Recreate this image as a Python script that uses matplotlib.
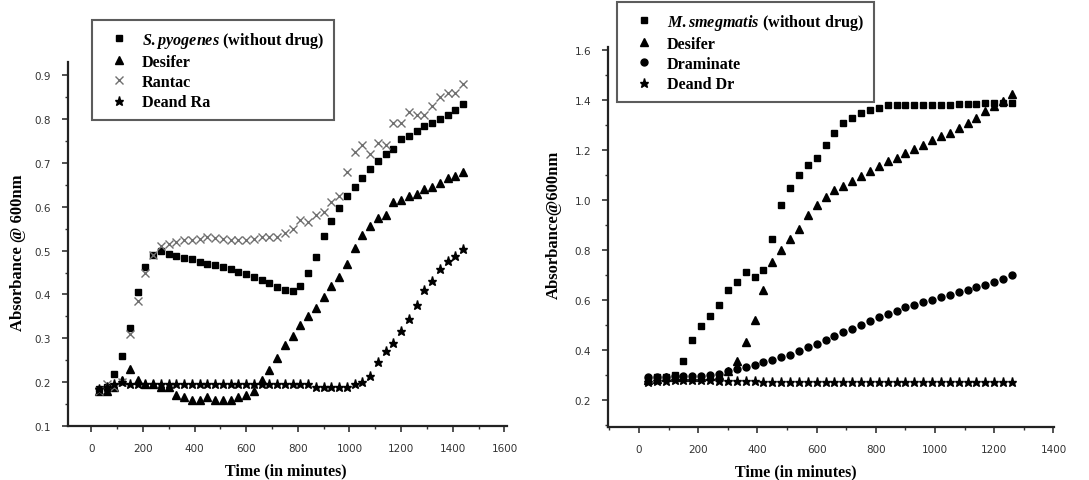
import matplotlib
matplotlib.use("Agg")
import matplotlib.pyplot as plt
from matplotlib.ticker import MultipleLocator

plt.rcParams['font.family'] = 'Liberation Serif'
plt.rcParams['mathtext.fontset'] = 'custom'
plt.rcParams['mathtext.it'] = 'Liberation Serif:italic:bold'
plt.rcParams['mathtext.rm'] = 'Liberation Serif:bold'

# ---- left panel: S. pyogenes ----
t_left = list(range(30, 1441, 30))
spyo = [0.184, 0.19, 0.218, 0.26, 0.324, 0.405, 0.463, 0.49, 0.50, 0.493,
        0.488, 0.484, 0.48, 0.475, 0.47, 0.466, 0.462, 0.458, 0.452, 0.446,
        0.44, 0.432, 0.425, 0.418, 0.41, 0.407, 0.42, 0.45, 0.485, 0.533,
        0.568, 0.598, 0.625, 0.645, 0.665, 0.686, 0.705, 0.72, 0.731, 0.754,
        0.762, 0.773, 0.784, 0.792, 0.80, 0.81, 0.82, 0.834]
desifer_l = [0.18, 0.18, 0.19, 0.205, 0.23, 0.205, 0.195, 0.195, 0.19, 0.19,
             0.17, 0.165, 0.16, 0.16, 0.165, 0.16, 0.16, 0.16, 0.165, 0.17,
             0.18, 0.205, 0.228, 0.255, 0.285, 0.305, 0.33, 0.35, 0.37, 0.395,
             0.42, 0.44, 0.47, 0.505, 0.535, 0.555, 0.575, 0.58, 0.61, 0.615,
             0.625, 0.63, 0.64, 0.645, 0.655, 0.665, 0.67, 0.68]
rantac = [0.18, 0.195, 0.19, 0.20, 0.31, 0.385, 0.45, 0.49, 0.51, 0.515,
          0.52, 0.525, 0.525, 0.527, 0.53, 0.528, 0.527, 0.525, 0.525, 0.525,
          0.527, 0.53, 0.53, 0.53, 0.54, 0.55, 0.57, 0.565, 0.58, 0.587,
          0.611, 0.625, 0.68, 0.725, 0.74, 0.72, 0.745, 0.74, 0.79, 0.79,
          0.815, 0.81, 0.81, 0.83, 0.85, 0.86, 0.86, 0.88]
dead_ra = [0.185, 0.19, 0.195, 0.20, 0.195, 0.195, 0.195, 0.195, 0.195, 0.195,
           0.195, 0.195, 0.195, 0.195, 0.195, 0.195, 0.195, 0.195, 0.195, 0.195,
           0.195, 0.195, 0.195, 0.195, 0.195, 0.195, 0.195, 0.195, 0.19, 0.19,
           0.19, 0.19, 0.19, 0.195, 0.20, 0.214, 0.245, 0.27, 0.29, 0.317,
           0.343, 0.377, 0.41, 0.43, 0.457, 0.476, 0.488, 0.503]

# ---- right panel: M. smegmatis ----
t_right = list(range(30, 1261, 30))
msmeg = [0.28, 0.29, 0.29, 0.30, 0.355, 0.44, 0.495, 0.535, 0.58, 0.64,
         0.67, 0.71, 0.69, 0.72, 0.845, 0.98, 1.05, 1.10, 1.14, 1.17,
         1.22, 1.27, 1.31, 1.33, 1.35, 1.36, 1.37, 1.38, 1.38, 1.38,
         1.38, 1.38, 1.38, 1.38, 1.38, 1.385, 1.385, 1.385, 1.39, 1.39,
         1.39, 1.39]
desifer_r = [0.28, 0.285, 0.29, 0.29, 0.29, 0.29, 0.29, 0.295, 0.30, 0.315,
             0.355, 0.43, 0.52, 0.64, 0.75, 0.80, 0.845, 0.885, 0.94, 0.98,
             1.01, 1.04, 1.055, 1.075, 1.095, 1.115, 1.135, 1.155, 1.17, 1.19,
             1.205, 1.22, 1.24, 1.255, 1.27, 1.29, 1.31, 1.33, 1.355, 1.375,
             1.395, 1.425]
draminate = [0.29, 0.29, 0.29, 0.295, 0.295, 0.295, 0.295, 0.30, 0.305, 0.315,
             0.325, 0.33, 0.34, 0.35, 0.36, 0.37, 0.38, 0.395, 0.41, 0.425,
             0.44, 0.455, 0.47, 0.485, 0.50, 0.515, 0.53, 0.545, 0.555, 0.57,
             0.58, 0.59, 0.60, 0.61, 0.62, 0.63, 0.64, 0.65, 0.66, 0.67,
             0.685, 0.70]
dead_dr = [0.27, 0.275, 0.275, 0.28, 0.28, 0.28, 0.28, 0.28, 0.275, 0.275,
           0.275, 0.275, 0.275, 0.27, 0.27, 0.27, 0.27, 0.27, 0.27, 0.27,
           0.27, 0.27, 0.27, 0.27, 0.27, 0.27, 0.27, 0.27, 0.27, 0.27,
           0.27, 0.27, 0.27, 0.27, 0.27, 0.27, 0.27, 0.27, 0.27, 0.27,
           0.27, 0.27]

fig = plt.figure(figsize=(10.89, 4.81), dpi=100)
ax1 = fig.add_axes([0.0624, 0.1123, 0.4032, 0.7567])
ax2 = fig.add_axes([0.5583, 0.1102, 0.4096, 0.79])

ax1.plot(t_left, spyo, 's', color='black', ms=5, label=r'$\mathit{S.pyogenes}$ (without drug)')
ax1.plot(t_left, desifer_l, '^', color='black', ms=5.5, label='Desifer')
ax1.plot(t_left, rantac, 'x', color='#707070', ms=6, mew=1.0, label='Rantac')
ax1.plot(t_left, dead_ra, '*', color='black', ms=6.5, label='Deand Ra')

ax2.plot(t_right, msmeg, 's', color='black', ms=5, label=r'$\mathit{M.smegmatis}$ (without drug)')
ax2.plot(t_right, desifer_r, '^', color='black', ms=5.5, label='Desifer')
ax2.plot(t_right, draminate, 'o', color='black', ms=5, label='Draminate')
ax2.plot(t_right, dead_dr, '*', color='black', ms=6.5, label='Deand Dr')

ax1.set_xlim(-90, 1610)
ax1.set_ylim(0.1, 0.93)
ax1.xaxis.set_major_locator(MultipleLocator(200))
ax1.xaxis.set_minor_locator(MultipleLocator(100))
ax1.yaxis.set_major_locator(MultipleLocator(0.1))
ax1.yaxis.set_minor_locator(MultipleLocator(0.05))
ax1.set_ylabel('Absorbance @ 600nm', fontsize=12, fontweight='bold')
ax1.yaxis.set_label_coords(-0.095, 0.48)

ax2.set_xlim(-105, 1402)
ax2.set_ylim(0.092, 1.612)
ax2.xaxis.set_major_locator(MultipleLocator(200))
ax2.xaxis.set_minor_locator(MultipleLocator(100))
ax2.yaxis.set_major_locator(MultipleLocator(0.2))
ax2.yaxis.set_minor_locator(MultipleLocator(0.1))
ax2.set_ylabel('Absorbance@600nm', fontsize=12, fontweight='bold')
ax2.yaxis.set_label_coords(-0.103, 0.534)

for ax in (ax1, ax2):
    ax.spines['top'].set_visible(False)
    ax.spines['right'].set_visible(False)
    ax.spines['left'].set_linewidth(1.6)
    ax.spines['bottom'].set_linewidth(1.6)
    ax.spines['left'].set_color('#222222')
    ax.spines['bottom'].set_color('#222222')
    ax.tick_params(which='major', direction='out', length=4, width=1.2,
                   labelsize=7.5, colors='#333333', pad=8)
    ax.tick_params(which='minor', direction='out', length=2.5, width=1.0, colors='#333333')
    for lab in ax.get_xticklabels() + ax.get_yticklabels():
        lab.set_fontfamily('DejaVu Sans')
    ax.set_xlabel('Time (in minutes)', fontsize=11.5, fontweight='bold')

ax1.xaxis.set_label_coords(0.497, -0.1)
ax2.xaxis.set_label_coords(0.42, -0.097)

ax1.yaxis.set_major_formatter(plt.FuncFormatter(lambda v, p: '%.1f' % v))
ax2.yaxis.set_major_formatter(plt.FuncFormatter(lambda v, p: '%.1f' % v))

leg_kw = dict(loc='upper left', frameon=True, fancybox=False, borderaxespad=0,
              prop={'family': 'Liberation Serif', 'weight': 'bold', 'size': 11.6},
              handletextpad=0.3, labelspacing=0.26, borderpad=0.6, handlelength=2.2)
l1 = ax1.legend(bbox_to_anchor=(92 / 1089, 1 - 21 / 481), bbox_transform=fig.transFigure, **leg_kw)
l2 = ax2.legend(bbox_to_anchor=(617 / 1089, 1 - 3 / 481), bbox_transform=fig.transFigure, **leg_kw)
for lg in (l1, l2):
    lg.get_frame().set_edgecolor('#333333')
    lg.get_frame().set_linewidth(1.5)

fig.savefig('out.png', dpi=100)
